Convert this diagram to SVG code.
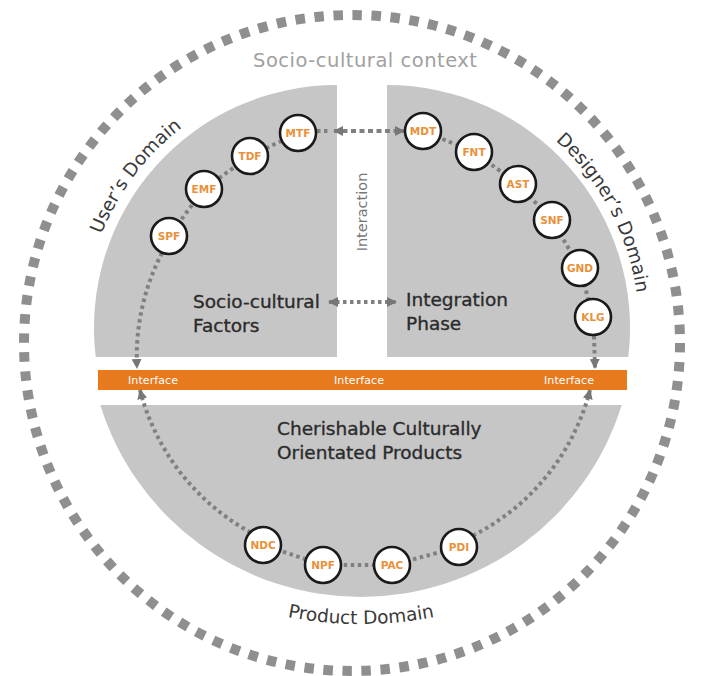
<svg xmlns="http://www.w3.org/2000/svg" width="701" height="676" viewBox="0 0 701 676">
  <defs>
    <style>
      .ring { fill: none; stroke: #8f8f8f; stroke-width: 10; stroke-dasharray: 9.5 9.58; }
      .zone { fill: #c6c6c6; }
      .bar { fill: #e87a1e; }
      .dot { fill: none; stroke: #808080; stroke-width: 4; stroke-dasharray: 3.5 3.5; }
      .dash { fill: none; stroke: #808080; stroke-width: 4; stroke-dasharray: 5 3.5; }
      .node circle { fill: #ffffff; stroke: #1a1a1a; stroke-width: 2.6; }
      .node text { font-family: "DejaVu Sans", sans-serif; font-weight: bold; font-size: 10.5px; fill: #e8913a; text-anchor: middle; }
      .title { font-family: "DejaVu Sans", sans-serif; font-size: 18.5px; fill: #2b2b2b; stroke: #2b2b2b; stroke-width: 0.35; }
      .domain { font-family: "DejaVu Sans", sans-serif; font-size: 18.5px; fill: #3a3a3a; }
      .iface { font-family: "DejaVu Sans", sans-serif; font-size: 11px; fill: #ffffff; text-anchor: middle; }
    </style>
    <marker id="tri" viewBox="0 0 10 10" refX="9" refY="5" markerWidth="10" markerHeight="10" markerUnits="userSpaceOnUse" orient="auto-start-reverse">
      <path d="M0,0 L10,5 L0,10 z" fill="#777777"/>
    </marker>
    <!-- baselines for the curved domain names -->
    <path id="arcUser" d="M 85.4 297.1 A 253.5 253.5 0 0 1 238.0 94.6"/>
    <path id="arcDesigner" d="M 520.5 114.2 A 252 252 0 0 1 638.8 336.8"/>
    <path id="arcProduct" d="M 266 612 A 380 380 0 0 0 456 612"/>
  </defs>

  <rect width="701" height="676" fill="#ffffff"/>

  <!-- outer context ring -->
  <circle class="ring" cx="352" cy="343" r="328"/>

  <!-- domain areas -->
  <g id="areas">
    <path class="zone" d="M 337 357 L 337 85 A 243 243 0 0 0 95.7 357 Z"/>
    <path class="zone" d="M 387 357 L 387 85 A 243 243 0 0 1 628.3 357 Z"/>
    <path class="zone" d="M 100.3 405 L 621.7 405 A 273 273 0 0 1 100.3 405 Z"/>
    <rect class="bar" x="98" y="370" width="529" height="20"/>
  </g>

  <!-- labels -->
  <g id="labels">
    <text x="365" y="67" font-family="DejaVu Sans, sans-serif" font-size="19.5" fill="#a0a0a0" text-anchor="middle" textLength="224">Socio-cultural context</text>
    <text class="domain"><textPath href="#arcUser" startOffset="50%" text-anchor="middle">User’s Domain</textPath></text>
    <text class="domain"><textPath href="#arcDesigner" startOffset="50%" text-anchor="middle">Designer’s Domain</textPath></text>
    <text class="domain"><textPath href="#arcProduct" startOffset="50%" text-anchor="middle">Product Domain</textPath></text>
    <text x="362" y="212" transform="rotate(-90 362 212)" dy="5" font-family="DejaVu Sans, sans-serif" font-size="14.5" fill="#777777" text-anchor="middle">Interaction</text>
    <text class="title" x="193" y="308">Socio-cultural</text>
    <text class="title" x="193" y="332">Factors</text>
    <text class="title" x="406" y="306">Integration</text>
    <text class="title" x="406" y="330">Phase</text>
    <text class="title" x="277" y="435">Cherishable Culturally</text>
    <text class="title" x="277" y="459">Orientated Products</text>
    <text class="iface" x="153" y="384" textLength="50">Interface</text>
    <text class="iface" x="359" y="384" textLength="50">Interface</text>
    <text class="iface" x="569" y="384" textLength="50">Interface</text>
  </g>

  <!-- connectors -->
  <g id="connectors">
    <path class="dot" d="M 169 236 L 204 189 L 250 156 L 298 133"/>
    <path class="dot" d="M 423 131 L 474 152 L 518 184 L 552 220 L 580 268 L 593 317"/>
    <path class="dot" d="M 263 545 L 323 565 L 392 565 L 459 547"/>
    <path class="dot" d="M 317 131 L 331 131"/>
    <path class="dash" d="M 334 131 L 404 131" marker-start="url(#tri)" marker-end="url(#tri)"/>
    <path class="dot" d="M 329 302 L 396 302" marker-start="url(#tri)" marker-end="url(#tri)"/>
    <path class="dot" d="M 162 253 A 226 226 0 0 0 137 368" marker-end="url(#tri)"/>
    <path class="dot" d="M 140 390 A 226 226 0 0 0 250 532" marker-start="url(#tri)"/>
    <path class="dot" d="M 594 336 L 595 368" marker-end="url(#tri)"/>
    <path class="dot" d="M 590 390 A 226 226 0 0 1 474 535" marker-start="url(#tri)"/>
  </g>

  <!-- factor nodes -->
  <g id="node-SPF" class="node"><circle cx="169" cy="236" r="18"/><text x="169" y="240">SPF</text></g>
  <g id="node-EMF" class="node"><circle cx="204" cy="189" r="18"/><text x="204" y="193">EMF</text></g>
  <g id="node-TDF" class="node"><circle cx="250" cy="156" r="18"/><text x="250" y="160">TDF</text></g>
  <g id="node-MTF" class="node"><circle cx="298" cy="133" r="18"/><text x="298" y="137">MTF</text></g>
  <g id="node-MDT" class="node"><circle cx="423" cy="131" r="18"/><text x="423" y="135">MDT</text></g>
  <g id="node-FNT" class="node"><circle cx="474" cy="152" r="18"/><text x="474" y="156">FNT</text></g>
  <g id="node-AST" class="node"><circle cx="518" cy="184" r="18"/><text x="518" y="188">AST</text></g>
  <g id="node-SNF" class="node"><circle cx="552" cy="220" r="18"/><text x="552" y="224">SNF</text></g>
  <g id="node-GND" class="node"><circle cx="580" cy="268" r="18"/><text x="580" y="272">GND</text></g>
  <g id="node-KLG" class="node"><circle cx="593" cy="317" r="18"/><text x="593" y="321">KLG</text></g>
  <g id="node-NDC" class="node"><circle cx="263" cy="545" r="18"/><text x="263" y="549">NDC</text></g>
  <g id="node-NPF" class="node"><circle cx="323" cy="565" r="18"/><text x="323" y="569">NPF</text></g>
  <g id="node-PAC" class="node"><circle cx="392" cy="565" r="18"/><text x="392" y="569">PAC</text></g>
  <g id="node-PDI" class="node"><circle cx="459" cy="547" r="18"/><text x="459" y="551">PDI</text></g>
</svg>
